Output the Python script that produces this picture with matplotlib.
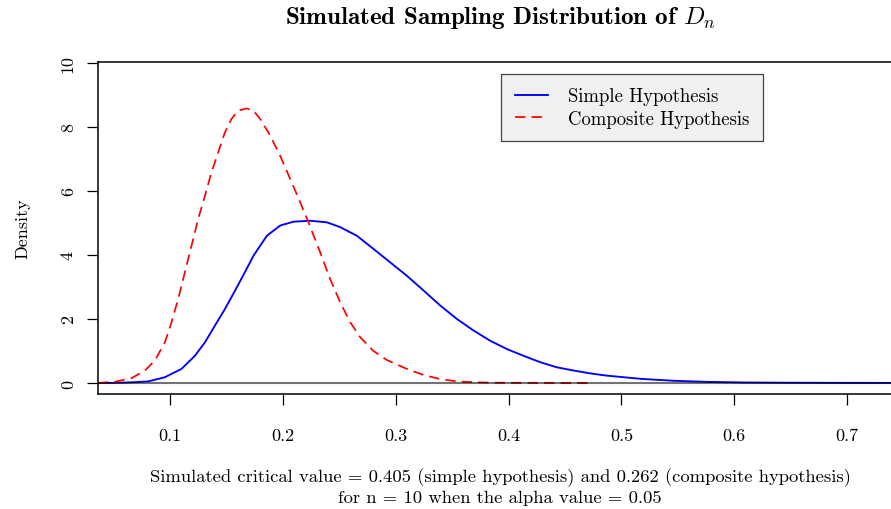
import matplotlib
matplotlib.use('Agg')
import matplotlib.pyplot as plt

plt.rcParams['font.family'] = 'cmr10'
plt.rcParams['mathtext.fontset'] = 'cm'
plt.rcParams['axes.formatter.use_mathtext'] = True

# density estimates
simple_x = [0.035, 0.05, 0.0657, 0.0805, 0.0953, 0.11, 0.1219, 0.1308, 0.1396, 0.1485,
            0.1574, 0.1662, 0.1739, 0.1857, 0.1975, 0.2093, 0.2241, 0.2389, 0.2507, 0.2655,
            0.2802, 0.295, 0.3098, 0.3246, 0.3394, 0.3542, 0.3689, 0.3837, 0.3985, 0.4132,
            0.428, 0.4428, 0.4575, 0.4723, 0.487, 0.517, 0.546, 0.576, 0.61, 0.65,
            0.70, 0.76, 0.80]
simple_y = [0.0, 0.004, 0.02, 0.05, 0.18, 0.44, 0.85, 1.27, 1.79, 2.31,
            2.88, 3.46, 3.98, 4.60, 4.92, 5.04, 5.07, 5.02, 4.87, 4.60,
            4.19, 3.77, 3.35, 2.89, 2.42, 2.0, 1.64, 1.32, 1.06, 0.85,
            0.65, 0.49, 0.39, 0.30, 0.23, 0.13, 0.07, 0.035, 0.015, 0.007,
            0.003, 0.001, 0.0]

composite_x = [0.036, 0.051, 0.0657, 0.0776, 0.0864, 0.0953, 0.1012, 0.1071, 0.113, 0.1189,
               0.1248, 0.1308, 0.1366, 0.1426, 0.1485, 0.1543, 0.1603, 0.1677, 0.1740, 0.1798,
               0.1887, 0.1975, 0.2064, 0.2152, 0.2226, 0.233, 0.2418, 0.2507, 0.2596, 0.2684,
               0.2802, 0.292, 0.3098, 0.3246, 0.339, 0.354, 0.37, 0.39, 0.42, 0.45,
               0.472]
composite_y = [0.0, 0.04, 0.15, 0.39, 0.70, 1.27, 1.90, 2.63, 3.46, 4.29,
               5.125, 5.85, 6.58, 7.21, 7.83, 8.25, 8.51, 8.58, 8.50, 8.25,
               7.73, 7.10, 6.375, 5.65, 5.02, 4.08, 3.25, 2.52, 1.90, 1.43,
               1.0, 0.72, 0.44, 0.25, 0.125, 0.05, 0.02, 0.007, 0.002, 0.0,
               0.0]

x_ticks = [0.1, 0.2, 0.3, 0.4, 0.5, 0.6, 0.7]
x_tick_labels = ['0.1', '0.2', '0.3', '0.4', '0.5', '0.6', '0.7']
y_ticks = [0, 2, 4, 6, 8, 10]
y_tick_labels = ['0', '2', '4', '6', '8', '10']

title = r'Simulated Sampling Distribution of $D_n$'
subtitle = ('Simulated critical value = 0.405 (simple hypothesis) and 0.262 (composite hypothesis)\n'
            'for n = 10 when the alpha value = 0.05')


fig = plt.figure(figsize=(8.91, 5.10), dpi=100)
ax = fig.add_axes([98 / 891, 1 - 395 / 510, (915 - 98) / 891, (395 - 63) / 510])

ax.plot(simple_x, simple_y, color='blue', lw=1.35, label='Simple Hypothesis')
ax.plot(composite_x, composite_y, color='red', lw=1.25, linestyle=(0, (6, 3.5)),
        label='Composite Hypothesis')
ax.axhline(0, color='black', alpha=0.55, lw=1.5, zorder=3)

ax.set_xlim(0.036, 0.036 + (915 - 98) / 1128)
ax.set_ylim(-0.344, 10.03)

ax.spines['right'].set_visible(False)
for s in ['top', 'left', 'bottom']:
    ax.spines[s].set_linewidth(1.1)

ax.set_xticks(x_ticks)
ax.set_xticklabels(x_tick_labels)
ax.set_yticks(y_ticks)
ax.set_yticklabels(y_tick_labels, rotation=90, va='center')
ax.tick_params(axis='x', length=8, width=0.9, pad=16, labelsize=13)
ax.tick_params(axis='y', length=8, width=0.9, pad=8, labelsize=13)

ax.set_ylabel('Density', fontsize=13, labelpad=22)

fig.text(501 / 891, 1 - 18 / 510, title, ha='center', va='center', fontsize=18,
         family='cmb10')
fig.text(500 / 891, 1 - 487 / 510, subtitle, ha='center', va='center', fontsize=13.4,
         linespacing=1.3)

leg = ax.legend(loc='upper left', bbox_to_anchor=(501 / 891, 1 - 75 / 510),
                bbox_transform=fig.transFigure, fontsize=13.5, fancybox=False,
                frameon=True, facecolor='#f0f0f0', edgecolor='#444444',
                framealpha=1, borderaxespad=0, handlelength=1.8, handletextpad=1.05,
                borderpad=0.72, labelspacing=0.22)
leg.get_frame().set_linewidth(0.9)

plt.savefig('out.png', dpi=100)
